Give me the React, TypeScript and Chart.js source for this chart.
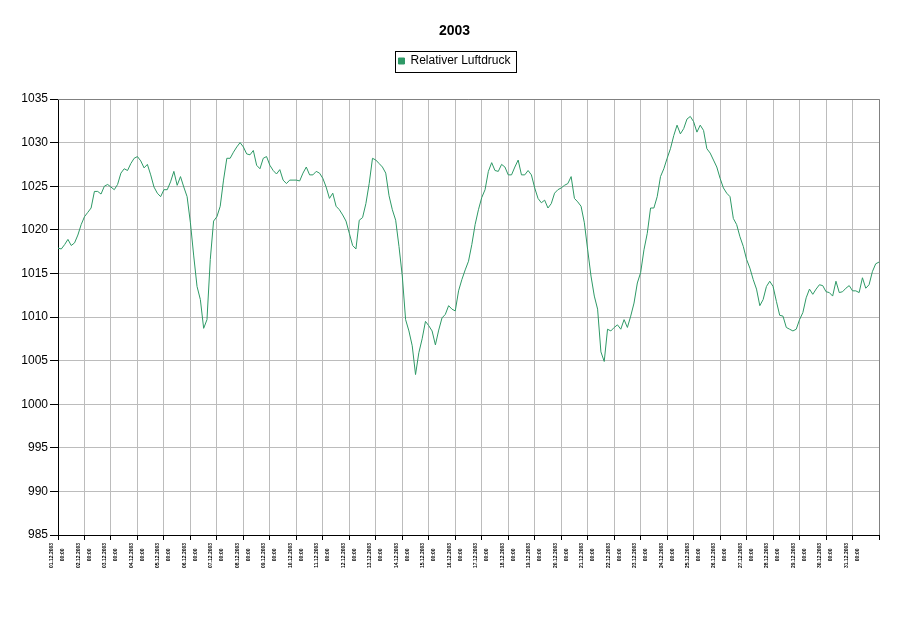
import React, { useEffect, useRef } from 'react';
import { Chart, registerables } from 'chart.js';

Chart.register(...registerables);

// ---------- data ----------
const chartTitle = '2003';
const seriesLabel = 'Relativer Luftdruck';
const timeLabel = '00:00';
const hoursPerSample = 3; // one reading every 3 hours
const dayLabels = [
  '01.12.2003', '02.12.2003', '03.12.2003', '04.12.2003', '05.12.2003', '06.12.2003', '07.12.2003',
  '08.12.2003', '09.12.2003', '10.12.2003', '11.12.2003', '12.12.2003', '13.12.2003', '14.12.2003',
  '15.12.2003', '16.12.2003', '17.12.2003', '18.12.2003', '19.12.2003', '20.12.2003', '21.12.2003',
  '22.12.2003', '23.12.2003', '24.12.2003', '25.12.2003', '26.12.2003', '27.12.2003', '28.12.2003',
  '29.12.2003', '30.12.2003', '31.12.2003',
];
const yMin = 985;
const yMax = 1035;
const yStep = 5;

// relative air pressure (hPa), 3-hourly, 01.12. 00:00 ... 01.01. 00:00
const pressureWeek1 = [
  1017.9, 1017.8, 1018.3, 1018.9, 1018.2, 1018.5, 1019.4, 1020.6,
  1021.5, 1022.0, 1022.5, 1024.4, 1024.4, 1024.1, 1025.0, 1025.2,
  1024.9, 1024.6, 1025.2, 1026.5, 1027.0, 1026.8, 1027.6, 1028.2,
  1028.4, 1027.9, 1027.1, 1027.5, 1026.3, 1024.9, 1024.2, 1023.8,
  1024.6, 1024.6, 1025.5, 1026.7, 1025.1, 1026.1, 1024.9, 1023.8,
  1020.8, 1017.0, 1013.5, 1012.0, 1008.7, 1009.7, 1016.6, 1021.0,
  1021.5, 1022.7, 1025.7, 1028.2, 1028.2, 1028.9, 1029.5, 1030.0,
];
const pressureWeek2 = [
  1029.5, 1028.7, 1028.6, 1029.1, 1027.4, 1027.0, 1028.2, 1028.4,
  1027.4, 1026.8, 1026.4, 1026.9, 1025.7, 1025.3, 1025.7, 1025.7,
  1025.7, 1025.6, 1026.5, 1027.2, 1026.3, 1026.3, 1026.7, 1026.5,
  1025.9, 1024.9, 1023.6, 1024.2, 1022.7, 1022.3, 1021.7, 1021.0,
  1019.6, 1018.2, 1017.8, 1021.1, 1021.4, 1023.0, 1025.3, 1028.2,
  1028.0, 1027.6, 1027.2, 1026.5, 1023.9, 1022.3, 1021.1, 1018.1,
  1014.7, 1009.7, 1008.4, 1006.7, 1003.4, 1005.9, 1007.5, 1009.5,
];
const pressureWeek3 = [
  1009.0, 1008.4, 1006.8, 1008.5, 1009.9, 1010.3, 1011.3, 1010.9,
  1010.7, 1013.0, 1014.3, 1015.4, 1016.4, 1018.3, 1020.6, 1022.3,
  1023.7, 1024.6, 1026.7, 1027.7, 1026.8, 1026.7, 1027.5, 1027.2,
  1026.3, 1026.3, 1027.2, 1028.0, 1026.3, 1026.3, 1026.8, 1026.3,
  1024.8, 1023.6, 1023.1, 1023.4, 1022.5, 1023.0, 1024.2, 1024.6,
  1024.8, 1025.1, 1025.3, 1026.1, 1023.6, 1023.2, 1022.7, 1020.8,
  1017.7, 1014.7, 1012.4, 1010.9, 1006.0, 1004.9, 1008.6, 1008.4,
];
const pressureWeek4 = [
  1008.8, 1009.1, 1008.6, 1009.7, 1008.8, 1010.1, 1011.6, 1013.9,
  1015.1, 1017.7, 1019.6, 1022.5, 1022.5, 1023.8, 1026.1, 1027.0,
  1028.2, 1029.3, 1030.8, 1032.0, 1031.0, 1031.6, 1032.7, 1033.0,
  1032.4, 1031.2, 1032.0, 1031.4, 1029.3, 1028.8, 1028.0, 1027.2,
  1025.9, 1024.8, 1024.2, 1023.8, 1021.3, 1020.6, 1019.2, 1018.1,
  1016.6, 1015.6, 1014.3, 1013.2, 1011.3, 1012.0, 1013.5, 1014.1,
  1013.5, 1011.8, 1010.2, 1010.1, 1008.8, 1008.6, 1008.4, 1008.6,
];
const pressureWeek5 = [
  1009.7, 1010.5, 1012.2, 1013.2, 1012.6, 1013.2, 1013.7, 1013.6,
  1012.9, 1012.8, 1012.4, 1014.1, 1012.8, 1012.9, 1013.3, 1013.6,
  1013.0, 1013.0, 1012.8, 1014.5, 1013.3, 1013.7, 1015.2, 1016.1,
  1016.3,
];
const pressure = [...pressureWeek1, ...pressureWeek2, ...pressureWeek3, ...pressureWeek4, ...pressureWeek5];

// ---------- styling ----------
const FONT = "'Liberation Sans', Arial, Helvetica, sans-serif";
const LINE_COLOR = '#2E9966';
const GRID_COLOR = '#BCBCBC';

const framePlugin = {
  id: 'frameAndLegendBox',
  afterDraw(chart: any) {
    const ctx = chart.ctx;
    const a = chart.chartArea;
    ctx.save();
    // plot frame top / right
    ctx.strokeStyle = '#808080';
    ctx.lineWidth = 1;
    ctx.beginPath();
    ctx.moveTo(a.left, Math.round(a.top) + 0.5);
    ctx.lineTo(Math.round(a.right) + 0.5, Math.round(a.top) + 0.5);
    ctx.lineTo(Math.round(a.right) + 0.5, a.bottom);
    ctx.stroke();
    // legend border
    const lg = chart.legend;
    if (lg && lg.legendHitBoxes && lg.legendHitBoxes.length) {
      const hb = lg.legendHitBoxes[0];
      const x0 = Math.round(hb.left) - 3 + 0.5;
      const x1 = Math.round(hb.left + hb.width) + 5 + 0.5;
      const y0 = Math.round(hb.top) - 4 + 0.5;
      const y1 = Math.round(hb.top + hb.height) + 5 + 0.5;
      ctx.strokeStyle = '#000';
      ctx.strokeRect(x0, y0, x1 - x0, y1 - y0);
    }
    ctx.restore();
  },
};

export default function App() {
  const canvasRef = useRef<HTMLCanvasElement | null>(null);

  useEffect(() => {
    if (!canvasRef.current) return;
    const points = pressure.map((v, i) => ({ x: i * hoursPerSample, y: v }));
    const totalHours = dayLabels.length * 24;

    const chart = new Chart(canvasRef.current, {
      type: 'line',
      data: {
        datasets: [
          {
            label: seriesLabel,
            data: points,
            borderColor: LINE_COLOR,
            backgroundColor: LINE_COLOR,
            borderWidth: 1,
            pointRadius: 0,
            tension: 0,
            fill: false,
          },
        ],
      },
      plugins: [framePlugin],
      options: {
        animation: false,
        responsive: true,
        maintainAspectRatio: false,
        events: [],
        layout: { padding: 0 },
        plugins: {
          tooltip: { enabled: false },
          title: {
            display: true,
            text: chartTitle,
            color: '#000',
            font: { family: FONT, size: 14, weight: 'bold', lineHeight: 1.2 },
            padding: { top: 22.6, bottom: 7.6 },
          },
          legend: {
            display: true,
            position: 'top',
            labels: {
              color: '#000',
              font: { family: FONT, size: 12 },
              boxWidth: 6,
              boxHeight: 6,
              padding: 8,
            },
          },
          subtitle: {
            display: true,
            text: ' ',
            weight: 500,
            font: { family: FONT, size: 10, lineHeight: 1.2 },
            padding: { top: 10, bottom: 0 },
          } as any,
        },
        scales: {
          x: {
            type: 'linear',
            min: 0,
            max: totalHours,
            afterFit(scale: any) {
              scale.height = 99;
            },
            ticks: {
              stepSize: 24,
              autoSkip: false,
              minRotation: 90,
              maxRotation: 90,
              labelOffset: -6,
              padding: 3,
              color: '#000',
              font: { family: FONT, size: 5, weight: 'bold', lineHeight: 2.2 },
              callback: (_v: any, index: number) =>
                index < dayLabels.length ? [dayLabels[index], timeLabel + '    '] : '',
            },
            grid: {
              color: GRID_COLOR,
              lineWidth: 1,
              tickColor: '#000',
              tickLength: 5,
            },
            border: { color: '#000', width: 1 },
          },
          y: {
            type: 'linear',
            min: yMin,
            max: yMax,
            afterFit(scale: any) {
              scale.width = 58;
            },
            ticks: {
              stepSize: yStep,
              padding: 2,
              color: '#000',
              font: { family: FONT, size: 12 },
              callback: (v: any) => String(v),
            },
            grid: {
              color: GRID_COLOR,
              lineWidth: 1,
              tickColor: '#000',
              tickLength: 8,
            },
            border: { color: '#000', width: 1 },
          },
          // empty right-hand margin (keeps title and legend centred on the full width)
          rightMargin: {
            type: 'linear',
            position: 'right',
            display: true,
            min: 0,
            max: 1,
            afterFit(scale: any) {
              scale.width = 30;
            },
            ticks: { display: false },
            grid: { display: false, drawTicks: false },
            border: { display: false },
          },
        },
      },
    } as any);

    return () => chart.destroy();
  }, []);

  return (
    <div style={{ position: 'fixed', left: 0, top: 0, width: 909, height: 634, background: '#fff' }}>
      <canvas ref={canvasRef} />
    </div>
  );
}
